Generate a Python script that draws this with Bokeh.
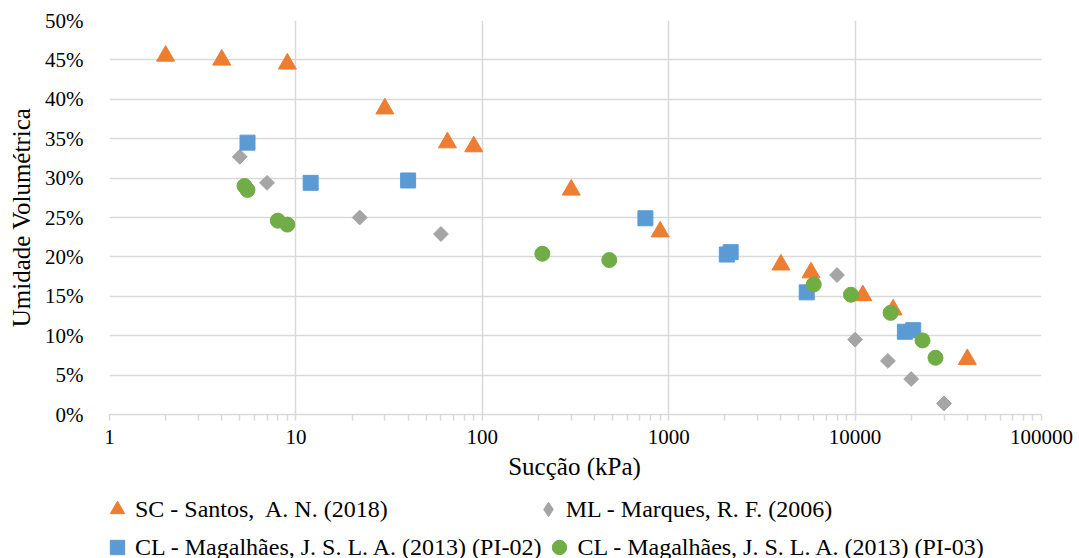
import math
from bokeh.plotting import figure
from bokeh.layouts import column
from bokeh.models import Legend, LegendItem, NumeralTickFormatter, FixedTicker, Range1d, Label
from bokeh.embed import file_html
from bokeh.resources import INLINE

# ---- data ----
sc_x = [2, 4, 9, 30, 65, 90, 300, 900, 4000, 5800, 11000, 16000, 40000]
sc_y = [0.455, 0.450, 0.445, 0.388, 0.345, 0.340, 0.285, 0.232, 0.190, 0.180, 0.151, 0.133, 0.070]
ml_x = [5, 7, 22, 60, 8000, 10000, 15000, 20000, 30000]
ml_y = [0.327, 0.294, 0.250, 0.229, 0.177, 0.095, 0.068, 0.045, 0.014]
pi02_x = [5.5, 12, 40, 750, 2050, 2150, 5500, 18500, 20500]
pi02_y = [0.345, 0.294, 0.297, 0.249, 0.203, 0.206, 0.155, 0.105, 0.107]
pi03_x = [5.3, 5.5, 8, 9, 210, 480, 6000, 9500, 15500, 23000, 27000]
pi03_y = [0.290, 0.285, 0.246, 0.241, 0.204, 0.196, 0.165, 0.152, 0.129, 0.094, 0.072]

labels = ["SC - Santos,  A. N. (2018)", "ML - Marques, R. F. (2006)",
          "CL - Magalhães, J. S. L. A. (2013) (PI-02)", "CL - Magalhães, J. S. L. A. (2013) (PI-03)"]
x_title = "Sucção (kPa)"
y_title = "Umidade Volumétrica"
x_ticks = [1, 10, 100, 1000, 10000, 100000]
x_minor = [m * d for d in [1, 10, 100, 1000, 10000] for m in range(2, 10)]
y_ticks = [0, 0.05, 0.10, 0.15, 0.20, 0.25, 0.30, 0.35, 0.40, 0.45, 0.50]

FONT = "Liberation Serif"
GRID = "#D9D9D9"
C_SC, C_ML, C_02, C_03 = "#ED7D31", "#A5A5A5", "#5B9BD5", "#70AD47"

p = figure(width=1079, height=452, x_axis_type="log",
           x_range=Range1d(1, 100000), y_range=Range1d(0, 0.5),
           output_backend="svg", toolbar_location=None,
           min_border_left=109, min_border_right=38, min_border_top=20, min_border_bottom=38)
p.outline_line_color = None

p.scatter(sc_x, sc_y, marker="triangle", size=18, color=C_SC)
p.scatter(ml_x, ml_y, marker="square", size=10.5, angle=math.pi / 4, color=C_ML)
p.scatter(pi02_x, pi02_y, marker="square", size=15, color=C_02)
p.scatter(pi03_x, pi03_y, marker="circle", size=15, color=C_03)

xa = p.xaxis[0]
xa.ticker = FixedTicker(ticks=x_ticks, minor_ticks=x_minor)
xa.formatter = NumeralTickFormatter(format="0")
xa.axis_line_color = GRID
xa.axis_line_width = 1.5
xa.major_tick_line_color = GRID
xa.major_tick_line_width = 1.5
xa.major_tick_in = 0
xa.major_tick_out = 6
xa.minor_tick_line_color = GRID
xa.minor_tick_line_width = 1.5
xa.minor_tick_in = 0
xa.minor_tick_out = 6
xa.major_label_standoff = 9
xa.major_label_text_font = FONT
xa.major_label_text_font_size = "21px"
xa.major_label_text_color = "#000000"

ya = p.yaxis[0]
ya.ticker = FixedTicker(ticks=y_ticks)
ya.formatter = NumeralTickFormatter(format="0%")
ya.axis_label = y_title
ya.axis_line_color = None
ya.major_tick_line_color = None
ya.minor_tick_line_color = None
ya.major_label_standoff = 20
ya.axis_label_standoff = 7
ya.major_label_text_font = FONT
ya.major_label_text_font_size = "21px"
ya.major_label_text_color = "#000000"
ya.axis_label_text_font = FONT
ya.axis_label_text_font_size = "25px"
ya.axis_label_text_font_style = "normal"
ya.axis_label_text_color = "#000000"

p.xgrid.grid_line_color = GRID
p.xgrid.grid_line_width = 1.5
p.ygrid.grid_line_color = GRID
p.ygrid.grid_line_width = 1.5

# ---- strip below: x-axis title + legend ----
q = figure(width=1079, height=106, x_range=Range1d(-2, -1), y_range=Range1d(-2, -1),
           output_backend="svg", toolbar_location=None,
           x_axis_location=None, y_axis_location=None,
           min_border=0, min_border_left=0, min_border_right=0, min_border_top=0, min_border_bottom=0)
q.outline_line_color = None
q.grid.visible = False

# legend swatches (same series; their points fall outside this strip's ranges)
l_sc = q.scatter(sc_x, sc_y, marker="triangle", size=12, color=C_SC)
l_ml = q.scatter(ml_x, ml_y, marker="diamond", size=12, color=C_ML)
l_02 = q.scatter(pi02_x, pi02_y, marker="square", size=12, color=C_02)
l_03 = q.scatter(pi03_x, pi03_y, marker="circle", size=12, color=C_03)

q.add_layout(Label(x=465, y=92, x_units="screen", y_units="screen", text=x_title,
                   text_align="center", text_baseline="middle",
                   text_font=FONT, text_font_size="25px", text_color="#000000"))

def make_legend(items, spacing, loc):
    return Legend(items=items, orientation="horizontal", location=loc,
                  spacing=spacing, margin=0, padding=0,
                  label_text_font=FONT, label_text_font_size="24px",
                  label_text_color="#000000", label_standoff=0,
                  glyph_width=36, glyph_height=36, label_height=36,
                  border_line_color=None, background_fill_alpha=0)

lg1 = make_legend([LegendItem(label=labels[0], renderers=[l_sc]),
                   LegendItem(label=labels[1], renderers=[l_ml])], 142, (-10, 31))
lg2 = make_legend([LegendItem(label=labels[2], renderers=[l_02]),
                   LegendItem(label=labels[3], renderers=[l_03])], -11, (-10, -7))
q.add_layout(lg1, "center")
q.add_layout(lg2, "center")

layout = column(p, q, spacing=0)
open("out.html", "w").write(file_html(layout, INLINE))
